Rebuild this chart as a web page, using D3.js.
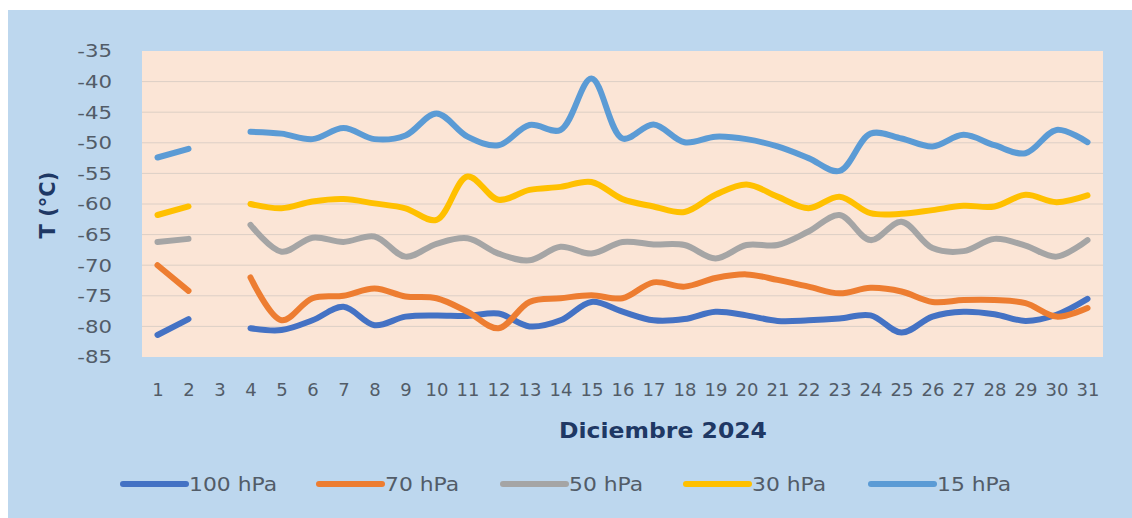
<!DOCTYPE html>
<html>
<head>
<meta charset="utf-8">
<script src="https://cdn.jsdelivr.net/npm/d3@7"></script>
<style>
  body { margin: 0; background: #ffffff; }
  svg { display: block; }
</style>
</head>
<body>
<div id="chart"></div>
<script>
// categories (days of December 2024)
var days = [1, 2, 3, 4, 5, 6, 7, 8, 9, 10, 11, 12, 13, 14, 15, 16, 17, 18, 19, 20,
  21, 22, 23, 24, 25, 26, 27, 28, 29, 30, 31];

// temperatures (°C) per level, day 3 missing
var t100 = [-81.4, -78.8, null, -80.3, -80.6, -79.0, -76.8, -79.8, -78.4, -78.2, -78.3,
  -77.9, -80.0, -79.0, -76.0, -77.6, -79.0, -78.8, -77.6, -78.2, -79.1, -79.0, -78.7,
  -78.2, -81.0, -78.4, -77.6, -78.0, -79.1, -78.1, -75.5];
var t70 = [-70.0, -74.2, null, -72.0, -79.0, -75.4, -75.0, -73.8, -75.1, -75.4, -77.6,
  -80.3, -76.0, -75.4, -74.9, -75.4, -72.8, -73.5, -72.1, -71.5, -72.4, -73.5, -74.6,
  -73.7, -74.3, -76.0, -75.7, -75.7, -76.2, -78.4, -77.0];
var t50 = [-66.2, -65.7, null, -63.4, -67.8, -65.5, -66.2, -65.3, -68.6, -66.5, -65.6,
  -68.1, -69.2, -67.0, -68.1, -66.2, -66.6, -66.7, -68.9, -66.7, -66.7, -64.5, -61.8,
  -65.9, -62.9, -67.2, -67.7, -65.7, -66.8, -68.6, -65.9];
var t30 = [-61.8, -60.4, null, -60.0, -60.7, -59.6, -59.2, -59.9, -60.7, -62.6, -55.5,
  -59.3, -57.7, -57.2, -56.4, -59.2, -60.4, -61.3, -58.5, -56.8, -58.8, -60.7, -58.8,
  -61.5, -61.6, -61.0, -60.3, -60.4, -58.5, -59.7, -58.6];
var t15 = [-52.4, -51.0, null, -48.2, -48.5, -49.4, -47.6, -49.4, -48.8, -45.2, -49.0,
  -50.4, -47.1, -47.9, -39.5, -49.3, -47.0, -49.9, -49.0, -49.4, -50.6, -52.5, -54.6,
  -48.5, -49.3, -50.6, -48.7, -50.4, -51.7, -47.9, -49.9];

var seriesNames = ["100 hPa", "70 hPa", "50 hPa", "30 hPa", "15 hPa"];
var seriesValues = [t100, t70, t50, t30, t15];
var seriesColors = ["#4472C4", "#ED7D31", "#A5A5A5", "#FFC000", "#5B9BD5"];

var yTicks = [-35, -40, -45, -50, -55, -60, -65, -70, -75, -80, -85];

// svg container
var svgWidth = 1132;
var svgHeight = 518;

var plot = { left: 142, right: 1103, top: 51, bottom: 357 };

var svg = d3.select("#chart")
  .append("svg")
  .attr("width", svgWidth)
  .attr("height", svgHeight);

// outer chart area
svg.append("rect")
  .attr("x", 8)
  .attr("y", 10)
  .attr("width", svgWidth - 8)
  .attr("height", svgHeight - 10)
  .attr("fill", "#BDD7EE");

// plot area
svg.append("rect")
  .attr("x", plot.left)
  .attr("y", plot.top)
  .attr("width", plot.right - plot.left)
  .attr("height", plot.bottom - plot.top)
  .attr("fill", "#FBE5D6");

// scales
var xScale = d3.scalePoint()
  .domain(days)
  .range([plot.left, plot.right])
  .padding(0.5);

var yScale = d3.scaleLinear()
  .domain([-85, -35])
  .range([plot.bottom, plot.top]);

// gridlines
svg.append("g")
  .selectAll("line")
  .data(yTicks.filter(d => d > -85 && d < -35))
  .enter()
  .append("line")
  .attr("x1", plot.left)
  .attr("x2", plot.right)
  .attr("y1", d => yScale(d))
  .attr("y2", d => yScale(d))
  .attr("stroke", "#DCCFC6")
  .attr("stroke-width", 1);

// y axis (labels only), plain hyphen like the original
var leftAxis = d3.axisLeft(yScale)
  .tickValues(yTicks)
  .tickFormat(d => String(d))
  .tickSize(0)
  .tickPadding(0);

var yAxisG = svg.append("g")
  .attr("transform", `translate(112, 0)`)
  .call(leftAxis);
yAxisG.select(".domain").remove();
yAxisG.selectAll("text")
  .attr("font-family", "DejaVu Sans")
  .attr("font-size", "18.5px")
  .attr("fill", "#525C68")
  .attr("transform", "scale(1.15,1)")
  .attr("x", 0);

// x axis (labels only)
var bottomAxis = d3.axisBottom(xScale)
  .tickSize(0)
  .tickPadding(0);

var xAxisG = svg.append("g")
  .attr("transform", `translate(0, 383)`)
  .call(bottomAxis);
xAxisG.select(".domain").remove();
xAxisG.selectAll("text")
  .attr("font-family", "DejaVu Sans")
  .attr("font-size", "18px")
  .attr("fill", "#525C68")
  .attr("dy", "0.71em");

// axis titles
svg.append("text")
  .attr("x", 663)
  .attr("y", 438)
  .attr("text-anchor", "middle")
  .attr("font-family", "DejaVu Sans")
  .attr("font-weight", "bold")
  .attr("font-size", "21px")
  .attr("fill", "#1F3864")
  .attr("transform", "translate(663,0) scale(1.12,1) translate(-663,0)")
  .text("Diciembre 2024");

svg.append("text")
  .attr("transform", "translate(55, 205) rotate(-90)")
  .attr("text-anchor", "middle")
  .attr("font-family", "DejaVu Sans")
  .attr("font-weight", "bold")
  .attr("font-size", "21px")
  .attr("fill", "#1F3864")
  .text("T (°C)");

// lines
var line = d3.line()
  .defined(d => d.v !== null)
  .x(d => xScale(d.day))
  .y(d => yScale(d.v))
  .curve(d3.curveCatmullRom.alpha(0.5));

seriesValues.forEach(function(vals, i) {
  var pts = days.map((d, j) => ({ day: d, v: vals[j] }));
  svg.append("path")
    .datum(pts)
    .attr("d", line)
    .attr("fill", "none")
    .attr("stroke", seriesColors[i])
    .attr("stroke-width", 6)
    .attr("stroke-linecap", "round")
    .attr("stroke-linejoin", "round");
});

// legend
var legendX = [123, 319, 503, 686, 871];
var legend = svg.append("g");
seriesNames.forEach(function(name, i) {
  var g = legend.append("g")
    .attr("transform", `translate(${legendX[i]}, 484)`);
  g.append("line")
    .attr("x1", 0)
    .attr("x2", 63)
    .attr("stroke", seriesColors[i])
    .attr("stroke-width", 6)
    .attr("stroke-linecap", "round");
  g.append("text")
    .attr("x", 0)
    .attr("y", 7)
    .attr("transform", "translate(66,0) scale(1.15,1)")
    .attr("font-family", "DejaVu Sans")
    .attr("font-size", "19px")
    .attr("fill", "#525C68")
    .text(name);
});
</script>
</body>
</html>
